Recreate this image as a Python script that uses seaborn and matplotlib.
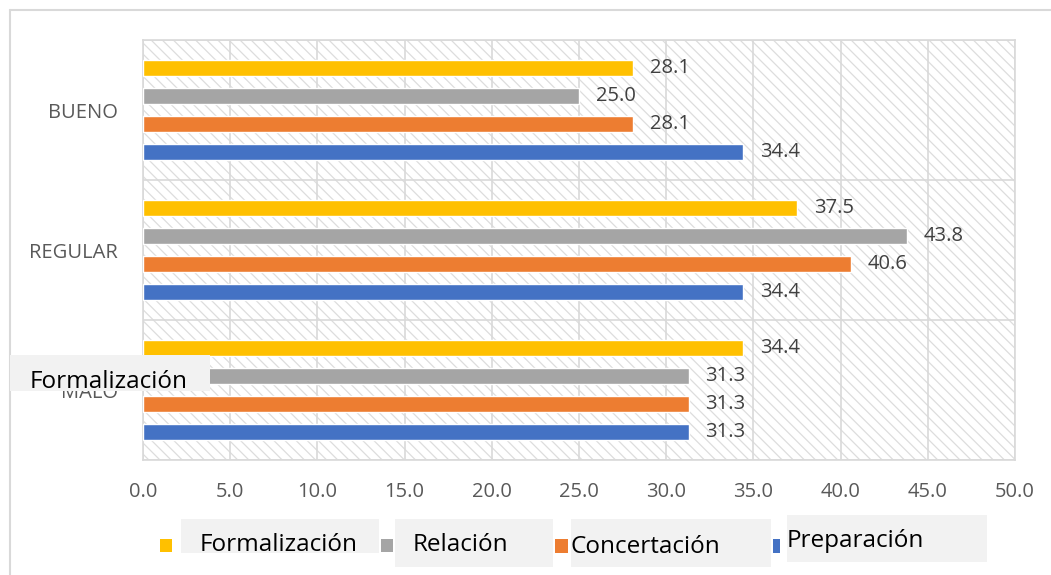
import matplotlib
matplotlib.use('Agg')
import matplotlib.pyplot as plt
import seaborn as sns
import pandas as pd
import numpy as np
from matplotlib.patches import Rectangle
from matplotlib.lines import Line2D

niveles = ['BUENO', 'REGULAR', 'MALO']
series = ['Formalización', 'Relación', 'Concertación', 'Preparación']
formalizacion = [28.1, 37.5, 34.4]
relacion = [25.0, 43.8, 31.3]
concertacion = [28.1, 40.6, 31.3]
preparacion = [34.4, 34.4, 31.3]
colores = ['#FFC000', '#A5A5A5', '#ED7D31', '#4472C4']
xticks = np.arange(0, 55, 5)

df = pd.DataFrame({
    'nivel': niveles * 4,
    'dimension': [s for s in series for _ in niveles],
    'valor': formalizacion + relacion + concertacion + preparacion,
})

sns.set_style('white')
plt.rcParams['font.family'] = ['Open Sans', 'DejaVu Sans']
plt.rcParams['hatch.linewidth'] = 0.9

W, H = 1051, 575
fig = plt.figure(figsize=(W / 100, H / 100), dpi=100)
ax = fig.add_axes([143 / W, 1 - 460 / H, (1015 - 143) / W, (460 - 40) / H])

def fx(x):
    return x / W

def fy(y):
    return 1 - y / H

# hatched background
ax.add_patch(Rectangle((0, 0), 1, 1, transform=ax.transAxes, facecolor='white',
                       edgecolor='#DDDDDD', hatch='\\\\\\', lw=0, zorder=0))

sns.barplot(data=df, y='nivel', x='valor', hue='dimension', order=niveles,
            hue_order=series, palette=colores, orient='h', width=0.8, gap=0.4,
            saturation=1, legend=False, ax=ax, zorder=3)

for c in ax.containers:
    ax.bar_label(c, fmt='%.1f', padding=12, color='#404040', fontsize=14.5)

ax.set_xlim(0, 50)
ax.set_ylim(2.5, -0.5)
ax.set_xticks(xticks)
ax.set_xticklabels([f'{v:.1f}' for v in xticks])
ax.set_yticks(range(len(niveles)))
ax.set_yticklabels(niveles)
ax.set_yticks([-0.5, 0.5, 1.5, 2.5], minor=True)
ax.set_xlabel('')
ax.set_ylabel('')
ax.tick_params(axis='x', length=0, pad=16, labelsize=14.5, labelcolor='#595959')
ax.tick_params(axis='y', which='major', length=0, pad=18, labelsize=14.5, labelcolor='#595959')
ax.tick_params(axis='y', which='minor', length=8, width=1.2, color='#D9D9D9')
ax.grid(axis='x', which='major', color='#D9D9D9', lw=1.2)
ax.grid(axis='y', which='minor', color='#D9D9D9', lw=1.2)
ax.set_axisbelow(True)
for s in ax.spines.values():
    s.set_color('#D9D9D9')
    s.set_linewidth(1.2)

# outer chart frame
fig.add_artist(Line2D([fx(10), 1], [fy(10), fy(10)], color='#D9D9D9', lw=1.5))
fig.add_artist(Line2D([fx(10), fx(10)], [fy(10), 0], color='#D9D9D9', lw=1.5))

# legend with label boxes
items = [
    (series[0], colores[0], (160, 539, 12, 13), (181, 519, 379, 553), 200, 545),
    (series[1], colores[1], (381, 539, 12, 13), (395, 519, 553, 567), 413, 545),
    (series[2], colores[2], (555, 539, 13, 14), (571, 519, 771, 567), 571, 547),
    (series[3], colores[3], (773, 539, 7, 14), (787, 515, 987, 562), 787, 541),
]
for lab, col, sq, box, tx, ty in items:
    x0, y0, x1, y1 = box
    fig.add_artist(Rectangle((fx(x0), fy(y1)), fx(x1 - x0), (y1 - y0) / H,
                             transform=fig.transFigure, facecolor='#F2F2F2', lw=0))
    sx, sy, sw, sh = sq
    fig.add_artist(Rectangle((fx(sx), fy(sy + sh)), fx(sw), sh / H,
                             transform=fig.transFigure, facecolor=col, lw=0))
    fig.text(fx(tx), fy(ty), lab, fontsize=17.5, color='black', va='center', ha='left')

# stray label box over MALO
fig.add_artist(Rectangle((fx(10), fy(391)), fx(200), 36 / H,
                         transform=fig.transFigure, facecolor='#F2F2F2', lw=0, zorder=5))
fig.text(fx(30), fy(382), 'Formalización', fontsize=17.5, color='black',
         va='center', ha='left', zorder=6)

fig.savefig('out.png', dpi=100)
